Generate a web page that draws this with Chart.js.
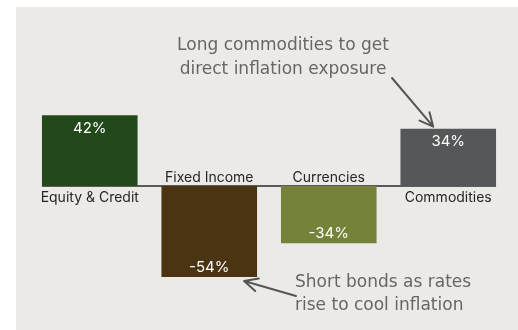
<!DOCTYPE html>
<html lang="en">
  <head>
    <meta charset="UTF-8" />
    <title>Positioning for inflation</title>
    <script src="https://cdn.jsdelivr.net/npm/chart.js"></script>
    <style>
      * {
        margin: 0;
        padding: 0;
        box-sizing: border-box;
      }
      body {
        background-color: #ffffff;
        width: 518px;
        height: 330px;
        overflow: hidden;
        position: relative;
      }
      #panel {
        position: absolute;
        left: 16px;
        top: 7px;
        right: 0;
        bottom: 0;
        background-color: #ebeae6;
      }
      #wrap {
        position: absolute;
        left: 0;
        top: 0;
        width: 518px;
        height: 330px;
      }
    </style>
  </head>
  <body>
    <div id="panel"></div>
    <div id="wrap"><canvas id="posChart"></canvas></div>

    <script>
      const categories = ["Equity & Credit", "Fixed Income", "Currencies", "Commodities"];
      const positions = [42, -54, -34, 34];
      const barColors = ["#22481b", "#4b3411", "#748339", "#565759"];
      const noteLong = ["Long commodities to get", "direct inflation exposure"];
      const noteShort = ["Short bonds as rates", "rise to cool inflation"];

      const labelFont = "14px Inter, 'Noto Sans', sans-serif";
      const valueFont = "15px Inter, 'Noto Sans', sans-serif";
      const noteFont = "17px 'DejaVu Sans', sans-serif";

      function arrow(ctx, x1, y1, x2, y2) {
        const a = Math.atan2(y2 - y1, x2 - x1);
        const h = 15;
        ctx.beginPath();
        ctx.moveTo(x1, y1);
        ctx.lineTo(x2, y2);
        ctx.moveTo(x2 - h * Math.cos(a - 0.45), y2 - h * Math.sin(a - 0.45));
        ctx.lineTo(x2, y2);
        ctx.lineTo(x2 - h * Math.cos(a + 0.45), y2 - h * Math.sin(a + 0.45));
        ctx.stroke();
      }

      // zero line, bar labels and the two notes
      const decorations = {
        id: "decorations",
        beforeDatasetsDraw(chart) {
          const { ctx } = chart;
          const bars = chart.getDatasetMeta(0).data;
          const y0 = chart.scales.y.getPixelForValue(0);
          ctx.save();
          ctx.strokeStyle = "#5a5a5a";
          ctx.lineWidth = 2;
          ctx.beginPath();
          ctx.moveTo(bars[0].x - bars[0].width / 2, y0);
          ctx.lineTo(bars[3].x + bars[3].width / 2, y0);
          ctx.stroke();
          ctx.restore();
        },
        afterDatasetsDraw(chart) {
          const { ctx } = chart;
          const bars = chart.getDatasetMeta(0).data;
          const y0 = chart.scales.y.getPixelForValue(0);
          ctx.save();
          ctx.textAlign = "center";
          ctx.textBaseline = "middle";
          bars.forEach((bar, i) => {
            const v = positions[i];
            ctx.font = labelFont;
            ctx.fillStyle = "#262626";
            ctx.fillText(categories[i], bar.x, v >= 0 ? y0 + 12 : y0 - 8);
            ctx.font = valueFont;
            ctx.fillStyle = "#ffffff";
            ctx.fillText(v + "%", bar.x, v >= 0 ? bar.y + 13 : bar.y - 10);
          });

          ctx.font = noteFont;
          ctx.fillStyle = "#666666";
          const c = bars[3];
          const nx = (bars[1].x + bars[2].x) / 2 + 14;
          ctx.fillText(noteLong[0], nx, 46);
          ctx.fillText(noteLong[1], nx, 70);
          ctx.textAlign = "left";
          const f = bars[1];
          ctx.fillText(noteShort[0], f.x + f.width / 2 + 38, 283);
          ctx.fillText(noteShort[1], f.x + f.width / 2 + 38, 306);

          ctx.strokeStyle = "#555555";
          ctx.lineWidth = 2;
          ctx.lineCap = "round";
          ctx.lineJoin = "round";
          arrow(ctx, 392, 78, c.x - 15, c.y - 2);
          arrow(ctx, 296, 296, f.x + f.width / 2 - 13, f.y + 4);
          ctx.restore();
        },
      };

      new Chart(document.getElementById("posChart"), {
        type: "bar",
        data: {
          labels: categories,
          datasets: [
            {
              data: positions,
              backgroundColor: barColors,
              borderWidth: 0,
              barPercentage: 0.8,
              categoryPercentage: 1,
            },
          ],
        },
        options: {
          responsive: true,
          maintainAspectRatio: false,
          animation: false,
          layout: { padding: { left: 30, right: 10, top: 68, bottom: 26 } },
          plugins: {
            legend: { display: false },
            tooltip: { enabled: false },
          },
          scales: {
            x: { display: false },
            y: { display: false, min: -70, max: 70 },
          },
        },
        plugins: [decorations],
      });
    </script>
  </body>
</html>
